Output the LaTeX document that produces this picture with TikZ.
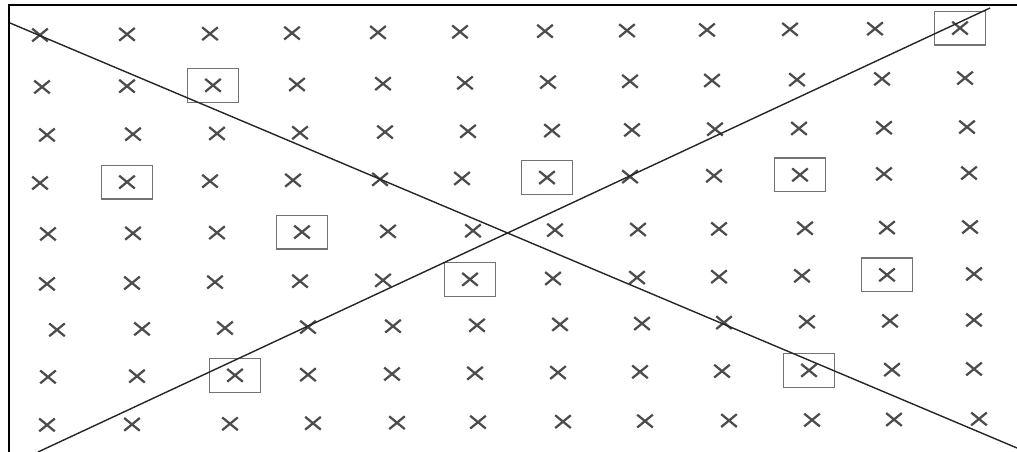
\documentclass[tikz,border=0pt]{standalone}
\usetikzlibrary{shapes.misc}

\begin{document}
\begin{tikzpicture}[
    x=0.025cm, y=-0.025cm,
    cross/.style={cross out, draw=black!70, line width=1.6pt,
                  minimum width=9.5pt, minimum height=7.5pt, inner sep=0pt},
    boxed/.style={draw=black!55, line width=0.9pt, minimum width=36pt,
                  minimum height=24pt, inner sep=0pt},
    frameline/.style={line width=2pt},
    diag/.style={line width=1pt, black!85}
  ]
  \useasboundingbox (0,0) rectangle (1017,452);

  % Frame (left and top)
  \coordinate (fl) at (9,452);
  \coordinate (fr) at (1017,5);
  \draw[frameline] (fl) |- (fr);

  % Grid of crosses: row / y at left / y at right / x positions
  \foreach \r/\yl/\yr/\xs in {
      1/35/28/{40,127,210,292,378,460,545,627,707,790,875,960},
      2/87/78/{42,127,213,297,383,465,548,630,712,797,882,965},
      3/135/127/{47,133,217,300,385,468,552,632,715,799,884,967},
      4/183/173/{40,127,210,293,380,462,547,630,714,800,884,969},
      5/234/227/{48,133,217,302,388,473,555,638,719,805,887,970},
      6/284/274/{47,132,215,300,383,470,553,637,719,802,887,974},
      7/330/320/{57,142,225,308,393,477,560,642,724,807,890,974},
      8/377/369/{48,137,235,308,392,475,558,640,722,809,892,974},
      9/425/419/{47,132,230,313,397,478,563,645,729,812,894,979}}{
    \foreach \x [count=\c] in \xs {
      \pgfmathsetmacro\y{\yl+(\yr-\yl)*(\x-40)/930}
      \node[cross] (x-\r-\c) at (\x,\y) {};
    }
  }

  % Boxed crosses
  \foreach \p in {1-12, 2-3, 4-2, 4-7, 4-10, 5-4, 6-6, 6-11, 8-3, 8-10}
    \node[boxed] (b-\p) at (x-\p) {};

  % Diagonals
  \coordinate (a1) at (10,23);
  \coordinate (a2) at (1017,448);
  \coordinate (b1) at (38,452);
  \coordinate (b2) at (990,8);
  \draw[diag] (a1) -- (a2);
  \draw[diag] (b1) -- (b2);
\end{tikzpicture}
\end{document}
